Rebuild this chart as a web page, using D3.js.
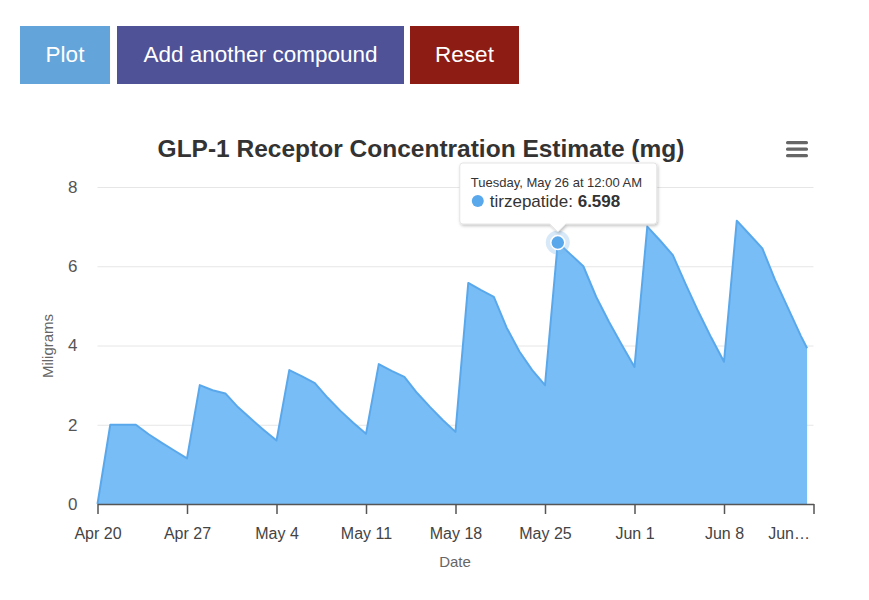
<!DOCTYPE html>
<html>
<head>
  <meta charset="utf-8">
  <title>GLP-1 Receptor Concentration Estimate</title>
  <style>
    body { margin: 0; background: #fff; font-family: "Liberation Sans", Arial, sans-serif; }
    .btn {
      position: absolute; top: 26px; height: 58px; line-height: 58px;
      color: #fff; font-size: 22.5px; text-align: center;
    }
    #chart { position: absolute; left: 0; top: 0; }
    .axis text { font-family: "Liberation Sans", Arial, sans-serif; }
  </style>
  <script src="https://d3js.org/d3.v7.min.js"></script>
</head>
<body>
<div class="btn" style="left:20px;width:90px;background:#63a5da;">Plot</div>
<div class="btn" style="left:117px;width:287px;background:#4f5297;">Add another compound</div>
<div class="btn" style="left:410px;width:109px;background:#8c1c14;">Reset</div>

<svg id="chart" width="869" height="600"></svg>

<script>
// tirzepatide estimate, one point per day (last one is half a day)
var dates = [
  "2020-04-20", "2020-04-21", "2020-04-22", "2020-04-23", "2020-04-24", "2020-04-25", "2020-04-26",
  "2020-04-27", "2020-04-28", "2020-04-29", "2020-04-30", "2020-05-01", "2020-05-02", "2020-05-03",
  "2020-05-04", "2020-05-05", "2020-05-06", "2020-05-07", "2020-05-08", "2020-05-09", "2020-05-10",
  "2020-05-11", "2020-05-12", "2020-05-13", "2020-05-14", "2020-05-15", "2020-05-16", "2020-05-17",
  "2020-05-18", "2020-05-19", "2020-05-20", "2020-05-21", "2020-05-22", "2020-05-23", "2020-05-24",
  "2020-05-25", "2020-05-26", "2020-05-27", "2020-05-28", "2020-05-29", "2020-05-30", "2020-05-31",
  "2020-06-01", "2020-06-02", "2020-06-03", "2020-06-04", "2020-06-05", "2020-06-06", "2020-06-07",
  "2020-06-08", "2020-06-09", "2020-06-10", "2020-06-11", "2020-06-12", "2020-06-13", "2020-06-14",
  "2020-06-14T12:00"
];
var tirzepatide = [
  0.00, 2.00, 2.00, 2.00, 1.76, 1.55, 1.35,
  1.15, 3.00, 2.87, 2.79, 2.44, 2.15, 1.87,
  1.60, 3.38, 3.22, 3.05, 2.68, 2.35, 2.05,
  1.77, 3.53, 3.36, 3.21, 2.80, 2.45, 2.12,
  1.82, 5.58, 5.40, 5.23, 4.45, 3.85, 3.38,
  3.00, 6.598, 6.30, 6.00, 5.23, 4.60, 4.02,
  3.46, 7.00, 6.65, 6.28, 5.55, 4.85, 4.20,
  3.59, 7.15, 6.80, 6.45, 5.65, 4.95, 4.25,
  3.93
];
var xTickDates = ["2020-04-20", "2020-04-27", "2020-05-04", "2020-05-11", "2020-05-18",
                  "2020-05-25", "2020-06-01", "2020-06-08", "2020-06-15"];
var xTickLabels = ["Apr 20", "Apr 27", "May 4", "May 11", "May 18", "May 25", "Jun 1", "Jun 8", "Jun\u2026"];
var yTicks = [0, 2, 4, 6, 8];
var hoverDate = "2020-05-26";

var parse = function(s) { return s.length > 10 ? d3.timeParse("%Y-%m-%dT%H:%M")(s) : d3.timeParse("%Y-%m-%d")(s); };
var data = dates.map(function(d, i) { return {date: parse(d), value: tirzepatide[i]}; });
var tickDates = xTickDates.map(parse);

var svg = d3.select("#chart");
var plotLeft = 97.5, plotRight = 813.5, plotTop = 187, plotBottom = 504;

var x = d3.scaleTime().domain([tickDates[0], tickDates[tickDates.length - 1]]).range([plotLeft, plotRight]);
var y = d3.scaleLinear().domain([0, 8]).range([plotBottom, plotTop]);

// title + menu
svg.append("text")
    .attr("x", 421).attr("y", 157)
    .attr("text-anchor", "middle")
    .style("font-size", "24.5px").style("font-weight", "bold").style("fill", "#333")
    .text("GLP-1 Receptor Concentration Estimate (mg)");

svg.append("g").selectAll("rect")
  .data([0, 1, 2])
  .enter().append("rect")
    .attr("x", 786).attr("y", function(d) { return 141 + d * 6.5; })
    .attr("width", 22).attr("height", 3.2).attr("rx", 1.5)
    .attr("fill", "#666");

// grid
svg.append("g").selectAll("line")
  .data(yTicks.slice(1))
  .enter().append("line")
    .attr("x1", plotLeft).attr("x2", plotRight)
    .attr("y1", function(d) { return y(d) + 0.5; }).attr("y2", function(d) { return y(d) + 0.5; })
    .attr("stroke", "#e6e6e6");

// y axis labels
var yAxis = svg.append("g")
    .attr("class", "axis")
    .attr("transform", "translate(" + (plotLeft - 20) + ",0)")
    .call(d3.axisLeft(y).tickValues(yTicks).tickSize(0).tickPadding(0));
yAxis.select(".domain").remove();
yAxis.selectAll("text").style("font-size", "17px").style("fill", "#555");

svg.append("text")
    .attr("transform", "translate(53,346) rotate(-90)")
    .attr("text-anchor", "middle")
    .style("font-size", "15px").style("fill", "#666")
    .text("Miligrams");

// area + line
var area = d3.area()
    .x(function(d) { return x(d.date); })
    .y0(y(0))
    .y1(function(d) { return y(d.value); });
var line = d3.line()
    .x(function(d) { return x(d.date); })
    .y(function(d) { return y(d.value); });

svg.append("path").datum(data)
    .attr("d", area)
    .attr("fill", "#78bdf6");
svg.append("path").datum(data)
    .attr("d", line)
    .attr("fill", "none")
    .attr("stroke", "#5aa8ec")
    .attr("stroke-width", 2)
    .attr("stroke-linejoin", "round");

// x axis
var xAxis = svg.append("g")
    .attr("class", "axis")
    .attr("transform", "translate(0," + plotBottom + ")")
    .call(d3.axisBottom(x)
        .tickValues(tickDates)
        .tickFormat(function(d, i) { return xTickLabels[i]; })
        .tickSize(10).tickSizeOuter(0).tickPadding(14));
xAxis.select(".domain").attr("stroke", "#555").attr("stroke-width", 1.5);
xAxis.selectAll(".tick line").attr("stroke", "#555").attr("stroke-width", 1.5);
xAxis.selectAll("text").style("font-size", "16px").style("fill", "#444");
xAxis.selectAll(".tick:last-of-type text").attr("text-anchor", "end").attr("dx", -4);

svg.append("text")
    .attr("x", 455).attr("y", 567)
    .attr("text-anchor", "middle")
    .style("font-size", "15px").style("fill", "#666")
    .text("Date");

// hover state
var hp = data.find(function(d) { return +d.date === +parse(hoverDate); });
var hx = x(hp.date), hy = y(hp.value);
svg.append("circle").attr("cx", hx).attr("cy", hy).attr("r", 12)
    .attr("fill", "#7cb5ec").attr("opacity", 0.3);
svg.append("circle").attr("cx", hx).attr("cy", hy).attr("r", 7)
    .attr("fill", "#5aa8ec").attr("stroke", "#fff").attr("stroke-width", 1.5);

// tooltip
var defs = svg.append("defs");
var f = defs.append("filter").attr("id", "shadow").attr("x", "-20%").attr("y", "-20%").attr("width", "140%").attr("height", "160%");
f.append("feDropShadow").attr("dx", 1).attr("dy", 1.5).attr("stdDeviation", 1.5)
    .attr("flood-color", "#000").attr("flood-opacity", 0.25);

var tw = 197, th = 61, tx = hx - 98, ty = 163, r = 3;
var tip = svg.append("g");
tip.append("path")
    .attr("filter", "url(#shadow)")
    .attr("fill", "#fff")
    .attr("stroke", "#ddd")
    .attr("stroke-width", 0.8)
    .attr("d", "M" + (tx + r) + "," + ty +
        "H" + (tx + tw - r) + "Q" + (tx + tw) + "," + ty + " " + (tx + tw) + "," + (ty + r) +
        "V" + (ty + th - r) + "Q" + (tx + tw) + "," + (ty + th) + " " + (tx + tw - r) + "," + (ty + th) +
        "H" + (hx + 8) + "L" + hx + "," + (ty + th + 8) + "L" + (hx - 8) + "," + (ty + th) +
        "H" + (tx + r) + "Q" + tx + "," + (ty + th) + " " + tx + "," + (ty + th - r) +
        "V" + (ty + r) + "Q" + tx + "," + ty + " " + (tx + r) + "," + ty + "Z");

tip.append("text")
    .attr("x", tx + 11).attr("y", ty + 24)
    .style("font-size", "13px").style("fill", "#333")
    .text(d3.timeFormat("%A, %B %-d at %I:%M %p")(hp.date));
tip.append("circle").attr("cx", tx + 18).attr("cy", ty + 38).attr("r", 6).attr("fill", "#5aa8ec");
var t2 = tip.append("text")
    .attr("x", tx + 30).attr("y", ty + 44)
    .style("font-size", "17px").style("fill", "#333");
t2.append("tspan").text("tirzepatide: ");
t2.append("tspan").style("font-weight", "bold").text(d3.format(".3f")(hp.value));
</script>
</body>
</html>
